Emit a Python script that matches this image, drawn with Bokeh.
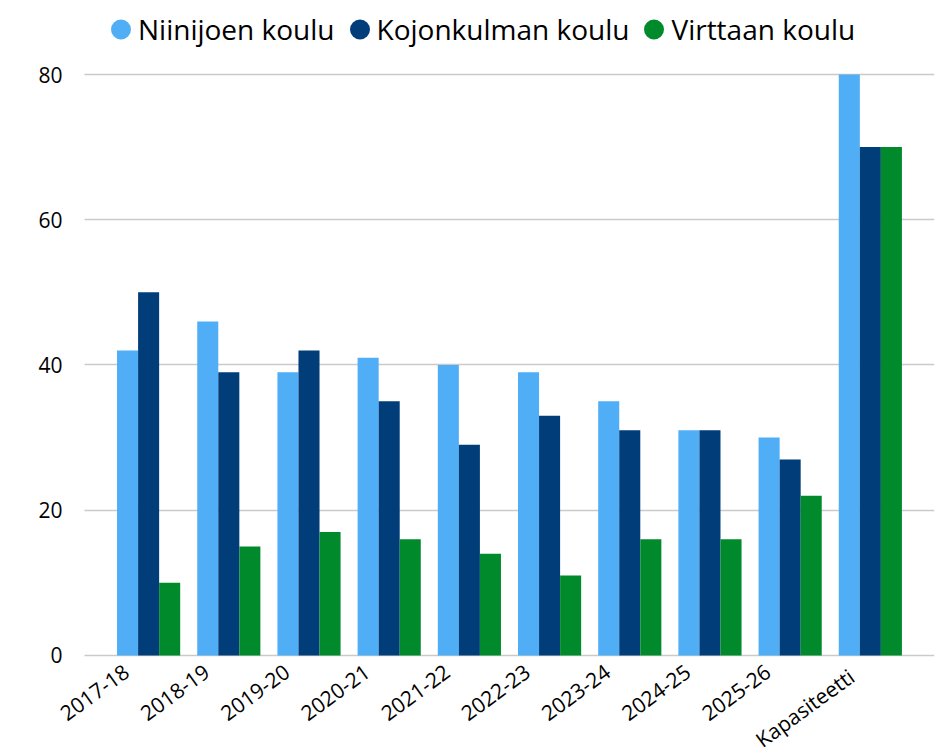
from bokeh.plotting import figure
from bokeh.models import (ColumnDataSource, Range1d, FixedTicker, Legend,
                          LegendItem, LabelSet, BoxAnnotation)
from bokeh.core.properties import value
from bokeh.embed import file_html
from bokeh.resources import INLINE

categories = ["2017-18", "2018-19", "2019-20", "2020-21", "2021-22",
              "2022-23", "2023-24", "2024-25", "2025-26", "Kapasiteetti"]
niinijoen = [42, 46, 39, 41, 40, 39, 35, 31, 30, 80]
kojonkulman = [50, 39, 42, 35, 29, 33, 31, 31, 27, 70]
virttaan = [10, 15, 17, 16, 14, 11, 16, 16, 22, 70]
series_names = ["Niinijoen koulu", "Kojonkulman koulu", "Virttaan koulu"]
y_ticks = [0, 20, 40, 60, 80]

colors = ["#4FAEF6", "#003D79", "#008A2C"]
FONT = "Open Sans"
PAD = 0.3          # plot-area padding around the categories (category units)
n = len(categories)
bw = 0.2625        # bar width (category units)

xc = [i + 0.5 for i in range(n)]
src = ColumnDataSource(dict(cat=categories, xc=xc, a=niinijoen, b=kojonkulman,
                            c=virttaan, base=[0] * n))
tick_src = ColumnDataSource(dict(y=y_ticks, t=[str(t) for t in y_ticks],
                                 x=[-PAD] * len(y_ticks)))

# frame spans the whole figure; legend and axis texts sit inside it
p = figure(width=937, height=752, output_backend="svg", toolbar_location=None,
           x_range=Range1d(-1.347, n + PAD), y_range=Range1d(-13.36, 90.19),
           min_border_left=0, min_border_right=3, min_border_top=0,
           min_border_bottom=0)
p.outline_line_color = None
p.background_fill_color = "white"
p.xaxis.visible = False
p.yaxis.visible = False
p.xgrid.grid_line_color = None

g = p.ygrid[0]
g.ticker = FixedTicker(ticks=y_ticks)
g.grid_line_color = "#C8CBC8"
g.grid_line_width = 1.6
if "cross_bounds" in g.properties():
    g.cross_bounds = (-PAD, n + PAD)
else:
    p.add_layout(BoxAnnotation(right=-PAD, fill_color="white", fill_alpha=1,
                               line_color=None, level="underlay"))

for key, off, col in zip(["a", "b", "c"], [-bw, 0, bw], colors):
    p.vbar(x=[x + off for x in xc], top=src.data[key], width=bw, bottom=0,
           fill_color=col, line_color=None)

# legend proxies: near-zero sized ellipses, the legend draws round swatches
legend_items = []
for name, col in zip(series_names, colors):
    r = p.ellipse(x="xc", y="base", width=0.001, height=0.001,
                  width_units="screen", height_units="screen", source=src,
                  fill_color=col, line_color=None)
    legend_items.append(LegendItem(label=name, renderers=[r]))

legend = Legend(items=legend_items, orientation="horizontal",
                location=(108, 703), glyph_width=25, glyph_height=40,
                label_standoff=5, spacing=12, padding=0, margin=0,
                border_line_color=None, background_fill_alpha=0,
                label_text_font=FONT, label_text_font_size="28px",
                label_text_color="#000000", label_height=40)
p.add_layout(legend, "center")

# y tick labels
p.add_layout(LabelSet(x="x", y="y", text="t", source=tick_src, x_offset=-22,
                      text_align="right", text_baseline="middle",
                      text_font=value(FONT), text_font_size=value("21px"),
                      text_color="#000000"))

# category labels, rotated, anchored at their top-right under each category
p.add_layout(LabelSet(x="xc", y="base", text="cat", source=src,
                      x_offset=-27, y_offset=-7, angle=0.63,
                      text_align="right", text_baseline="top",
                      text_font=value(FONT), text_font_size=value("21px"),
                      text_color="#000000"))

open("out.html", "w").write(file_html(p, INLINE))
